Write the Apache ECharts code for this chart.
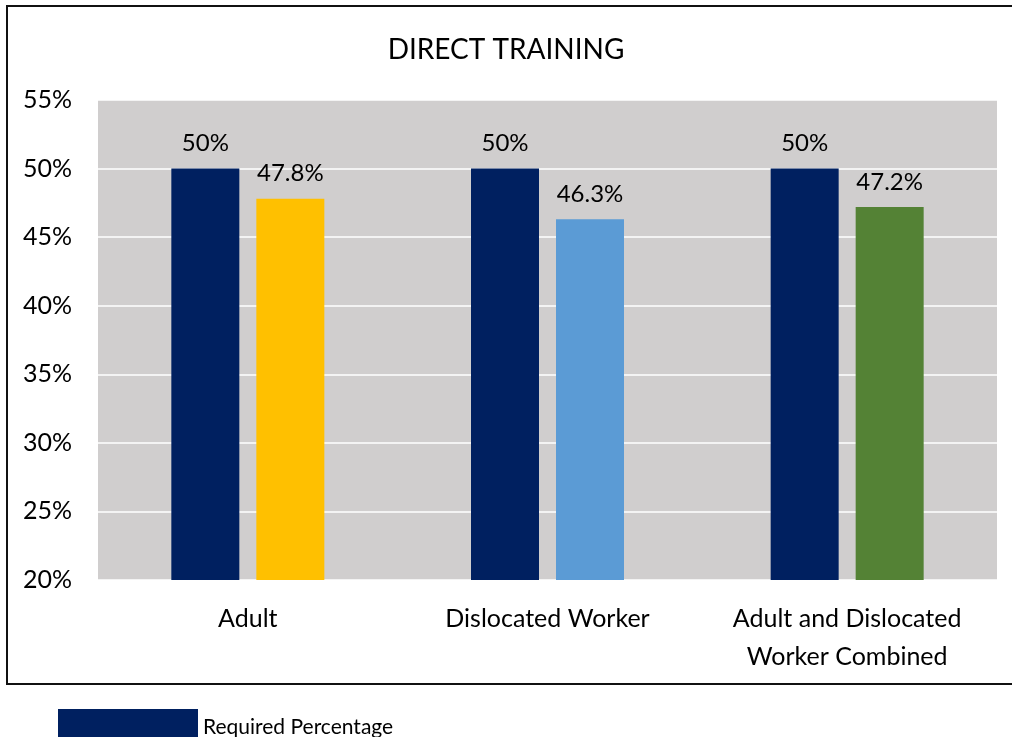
<!DOCTYPE html>
<html>
<head>
<meta charset="utf-8">
<script src="https://cdn.jsdelivr.net/npm/echarts@6/dist/echarts.min.js"></script>
<style>
  html, body { margin: 0; padding: 0; background: #fff; }
  #chart { width: 1012px; height: 737px; }
</style>
</head>
<body>
<div id="chart"></div>
<script>
// categories and values
const categories = ["Adult", "Dislocated Worker", "Adult and Dislocated\nWorker Combined"];
const requiredValues = [50, 50, 50];
const actualValues = [47.8, 46.3, 47.2];
const actualColors = ["#FFC000", "#5B9BD5", "#548235"];
const yMin = 20;
const yMax = 55;
const yStep = 5;

const fontFamily = "Lato, 'Open Sans', sans-serif";

const chart = echarts.init(document.getElementById("chart"));

const barLabel = {
  show: true,
  position: "top",
  distance: 13,
  formatter: (p) => p.value + "%",
  color: "#000",
  fontSize: 24,
  fontFamily: fontFamily,
};

const option = {
  backgroundColor: "#fff",
  animation: false,
  textStyle: { fontFamily: fontFamily },
  title: {
    text: "DIRECT TRAINING",
    left: "center",
    top: 31,
    textStyle: { fontSize: 28, fontWeight: "normal", color: "#000", fontFamily: fontFamily },
  },
  graphic: [
    {
      type: "rect",
      shape: { x: 7, y: 6, width: 1030, height: 678 },
      style: { fill: "none", stroke: "#111", lineWidth: 2 },
      z: -10,
    },
  ],
  legend: {
    data: [{ name: "Required Percentage", icon: "rect" }],
    left: 53,
    top: 704,
    itemWidth: 140,
    itemHeight: 36,
    itemGap: 8,
    textStyle: { fontSize: 21, color: "#000", fontFamily: fontFamily },
  },
  grid: {
    left: 98,
    right: 15,
    top: 100,
    bottom: 157,
    show: true,
    backgroundColor: "#D0CECE",
    borderWidth: 0,
  },
  xAxis: {
    type: "category",
    data: categories,
    axisLine: { show: false },
    axisTick: { show: false },
    axisLabel: {
      color: "#000",
      fontSize: 25,
      margin: 20,
      lineHeight: 38,
      interval: 0,
      fontFamily: fontFamily,
    },
  },
  yAxis: {
    type: "value",
    min: yMin,
    max: yMax,
    interval: yStep,
    axisLine: { show: false },
    axisTick: { show: false },
    axisLabel: {
      color: "#000",
      fontSize: 25,
      margin: 26,
      formatter: "{value}%",
      fontFamily: fontFamily,
    },
    splitLine: { lineStyle: { color: "#fff", width: 1.5 } },
  },
  series: [
    {
      name: "Required Percentage",
      type: "bar",
      data: requiredValues,
      barWidth: 68,
      barGap: "25%",
      itemStyle: { color: "#002060" },
      label: barLabel,
    },
    {
      name: "Actual",
      type: "bar",
      barWidth: 68,
      data: actualValues.map((v, i) => ({ value: v, itemStyle: { color: actualColors[i] } })),
      label: barLabel,
    },
  ],
};

chart.setOption(option);
</script>
</body>
</html>
